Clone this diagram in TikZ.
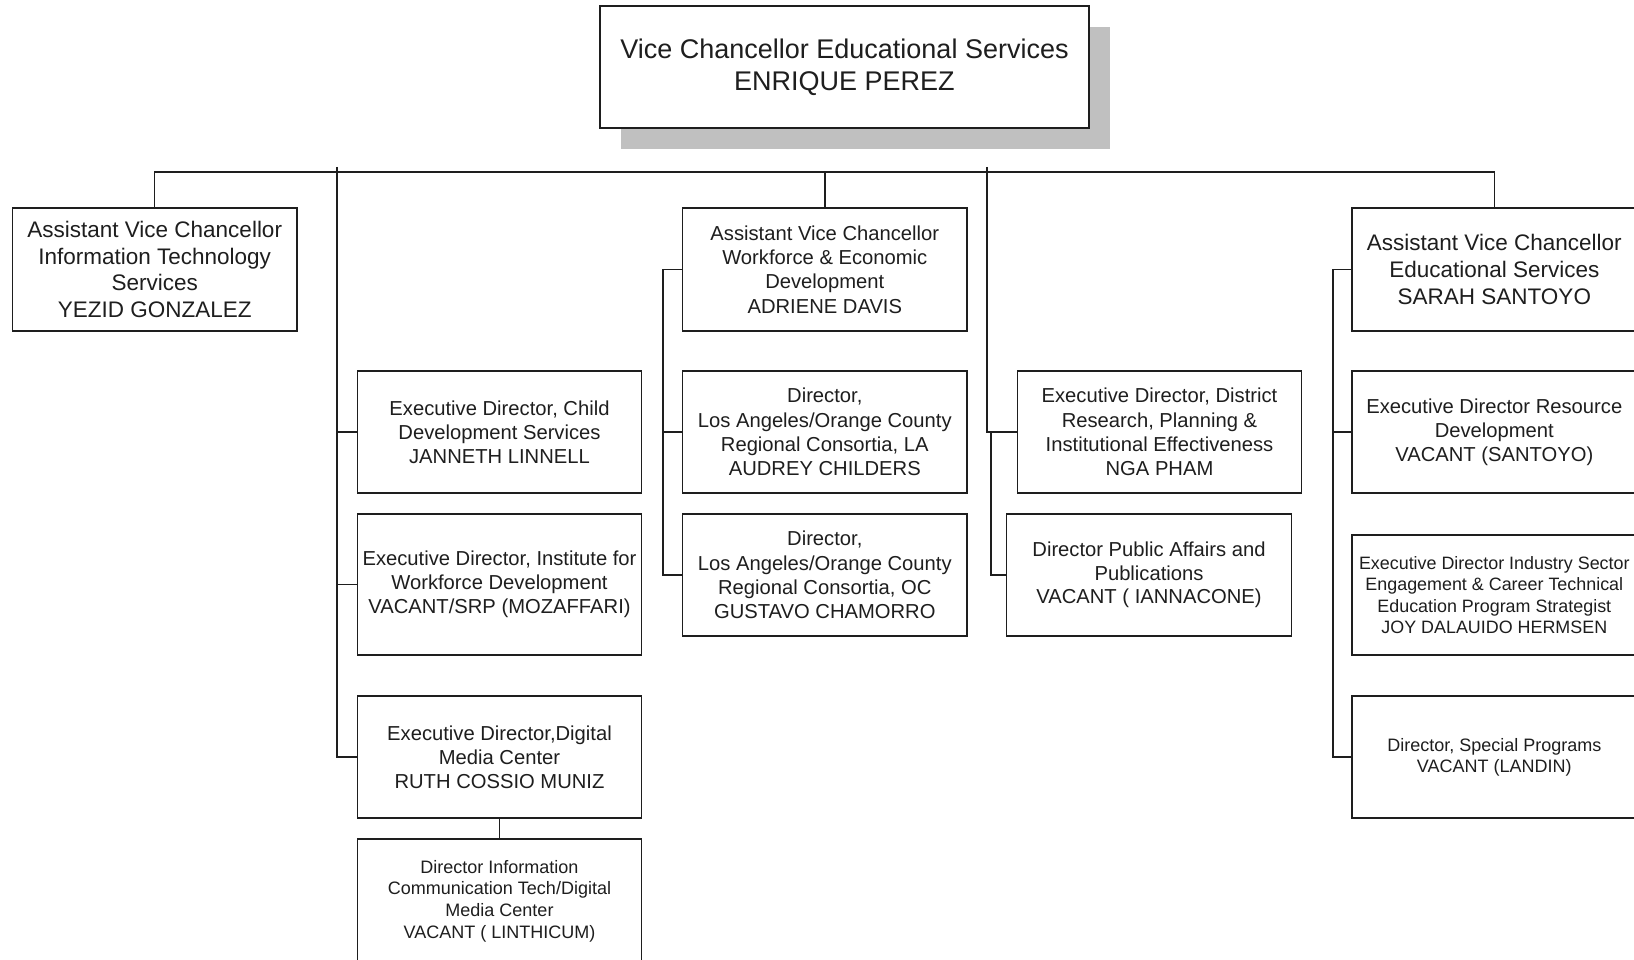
\documentclass[tikz,border=0pt]{standalone}
\usepackage{fontspec}
\setmainfont{Liberation Sans}
\usetikzlibrary{shadows}
\definecolor{shadowgray}{RGB}{192,192,192}
\definecolor{inkc}{RGB}{30,30,30}
\tikzset{
  box/.style={draw=inkc, line width=1.4pt, fill=white, inner sep=0pt,
    minimum width=284.5pt, minimum height=122pt, align=center, text=inkc},
  conn/.style={draw=inkc, line width=1.4pt},
  fbig/.style={font={\fontsize{27}{32}\selectfont}},
  flarge/.style={font={\fontsize{22.5}{26.7}\selectfont}},
  fmed/.style={font={\fontsize{20.2}{24.2}\selectfont}},
  fsmall/.style={font={\fontsize{18}{21.6}\selectfont}},
}
\begin{document}
\begin{tikzpicture}[x=1pt,y=-1pt]
\path[use as bounding box] (0,0) rectangle (1634,960);
\clip (0,0) rectangle (1634,960);

% top box with shadow
\node[box, fbig, minimum width=489pt, minimum height=122pt,
  drop shadow={shadow xshift=21pt, shadow yshift=-21pt, fill=shadowgray, opacity=1}]
  (b0) at (844.5,67) {Vice Chancellor Educational Services\\ENRIQUE PEREZ};

% first row
\node[box, flarge, minimum height=123pt] (b1) at (154.7,269.5)
  {Assistant Vice Chancellor\\Information Technology\\Services\\YEZID GONZALEZ};
\node[box, fmed, minimum height=123pt] (b2) at (824.8,269.5)
  {Assistant Vice Chancellor\\Workforce \& Economic\\Development\\ADRIENE DAVIS};
\node[box, flarge, minimum height=123pt] (b3) at (1494.3,269.5)
  {Assistant Vice Chancellor\\Educational Services\\SARAH SANTOYO};

% column 2
\node[box, fmed] (b4) at (499.5,432)
  {Executive Director, Child\\Development Services\\JANNETH LINNELL};
\node[box, fmed, minimum height=141pt] (b5) at (499.5,584.5)
  {Executive Director, Institute for\\Workforce Development\\VACANT/SRP (MOZAFFARI)};
\node[box, fmed] (b6) at (499.5,757)
  {Executive Director,Digital\\Media Center\\RUTH COSSIO MUNIZ};
\node[box, fsmall, minimum height=124pt] (b7) at (499.5,901)
  {Director Information\\Communication Tech/Digital\\Media Center\\VACANT ( LINTHICUM)};

% column 3
\node[box, fmed] (b8) at (824.8,432)
  {Director,\\Los Angeles/Orange County\\Regional Consortia, LA\\AUDREY CHILDERS};
\node[box, fmed] (b9) at (824.8,575)
  {Director,\\Los Angeles/Orange County\\Regional Consortia, OC\\GUSTAVO CHAMORRO};

% column 4
\node[box, fmed] (b10) at (1159.5,432)
  {Executive Director, District\\Research, Planning \&\\Institutional Effectiveness\\NGA PHAM};
\node[box, fmed, font={\fontsize{20.2}{23.4}\selectfont}] (b11) at (1149,575)
  {Director Public Affairs and\\Publications\\VACANT ( IANNACONE)};

% column 5
\node[box, fmed] (b12) at (1494.3,432)
  {Executive Director Resource\\Development\\VACANT (SANTOYO)};
\node[box, font={\fontsize{17.9}{21.6}\selectfont}, minimum height=120pt] (b13) at (1494.3,595)
  {Executive Director Industry Sector\\Engagement \& Career Technical\\Education Program Strategist\\JOY DALAUIDO HERMSEN};
\node[box, font={\fontsize{18}{20.8}\selectfont}] (b14) at (1494.3,757)
  {Director, Special Programs\\VACANT (LANDIN)};

% connectors
\coordinate (bus) at (0,172);
\coordinate (c2top) at (337,167);
\coordinate (c3) at (663,300);
\coordinate (c4top) at (987,167);
\coordinate (c4b) at (991,432);
\coordinate (c5) at (1333,300);

\draw[conn] (b1.north) -- (b1.north |- bus) -- (b3.north |- bus) -- (b3.north);
\draw[conn] (b2.north) -- (b2.north |- bus);

\draw[conn] (c2top) |- (b6.west);
\draw[conn] (b4.west) -- (b4.west -| c2top);
\draw[conn] (b5.west) -- (b5.west -| c2top);
\draw[conn] (b6.south) -- (b7.north);

\draw[conn] (b2.west) -- (b2.west -| c3) |- (b9.west);
\draw[conn] (b8.west) -- (b8.west -| c3);

\draw[conn] (c4top) |- (b10.west);
\draw[conn] (b10.west -| c4b) |- (b11.west);

\draw[conn] (b3.west) -- (b3.west -| c5) |- (b14.west);
\draw[conn] (b12.west) -- (b12.west -| c5);
\end{tikzpicture}
\end{document}
